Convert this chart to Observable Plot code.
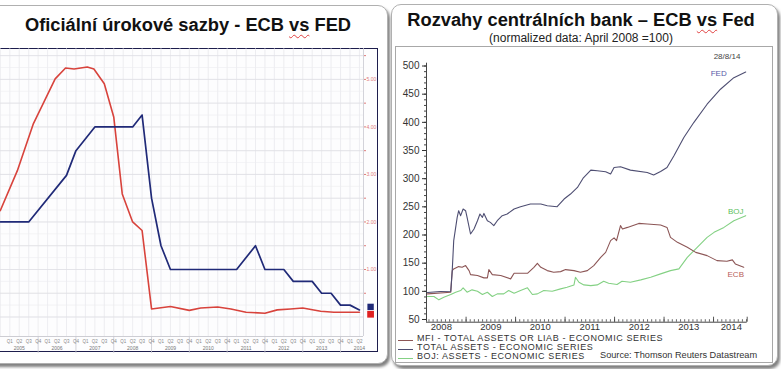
<!DOCTYPE html>
<html><head><meta charset="utf-8">
<script src="https://cdn.jsdelivr.net/npm/d3@7"></script>
<script src="https://cdn.jsdelivr.net/npm/@observablehq/plot@0.6"></script>
<style>
*{box-sizing:border-box;}
html,body{margin:0;padding:0;background:#fff;}
body{width:781px;height:369px;position:relative;overflow:hidden;font-family:"Liberation Sans",Arial,sans-serif;}
.card{position:absolute;background:#fff;border:1px solid #b0b0b0;border-radius:10px;box-shadow:2px 3px 3px rgba(0,0,0,0.5);}
#lcard{left:-14px;top:5px;width:402px;height:359px;}
#rcard{left:391px;top:4px;width:387px;height:362px;}
.abs{position:absolute;white-space:nowrap;}
.title{font-weight:bold;font-size:18.3px;color:#111;transform:translate(-50%,-50%);}
.sub{font-size:12px;color:#222;transform:translate(-50%,-50%);}
.sq{text-decoration:underline wavy #e04040;text-decoration-thickness:1px;text-underline-offset:3px;}
#lframe{left:-6px;top:48px;width:383.5px;height:304px;border:1.5px solid #1d1d4d;background:#fdfdfe;}
#rbox{left:395px;top:46px;width:378px;height:317px;border:1px solid #a8a8a8;}
#lplot{left:0;top:48px;}
#rplot{left:396px;top:47px;}
.leg{font-size:9px;letter-spacing:0.6px;color:#333;line-height:9px;transform:translateY(-50%);}
.src{font-size:9.2px;color:#333;line-height:9px;transform:translateY(-50%);}
.sw{position:absolute;width:15px;height:0;border-top:1.2px solid;}
.date{font-size:8px;color:#444;transform:translate(-50%,-50%);}
</style></head><body>
<div id="lcard" class="card"></div>
<div id="rcard" class="card"></div>
<div class="abs title" style="left:188px;top:25px;">Oficiální úrokové sazby - ECB <span class="sq">vs</span> FED</div>
<div class="abs title" style="left:581px;top:20px;">Rozvahy centrálních bank – ECB <span class="sq">vs</span> Fed</div>
<div class="abs sub" style="left:581px;top:38px;">(normalized data: April 2008 =100)</div>
<div id="lframe" class="abs"></div>
<div id="rbox" class="abs"></div>
<div id="lplot" class="abs"></div>
<div id="rplot" class="abs"></div>
<div class="abs date" style="left:727px;top:56px;">28/8/14</div>
<div id="legend"></div>
<script>
// ---------- Left chart: official rates (quarter index, 0 = first labelled quarter) ----------
const quarterLabels = ["Q1","Q2","Q3","Q4"];
const rateYears = [2005,2006,2007,2008,2009,2010,2011,2012,2013,2014];
const rateTicks = [1,2,3,4,5];
const ecbRateQ = [-1,2,6,7,9,13,14,15,16,17,24,26,27,29,30,32,33,34,35,36,37];
const ecbRate  = [2.0,2.0,2.98,3.5,4.0,4.0,4.25,2.5,1.5,1.0,1.0,1.5,1.0,1.0,0.75,0.75,0.5,0.5,0.25,0.25,0.15];
const fedRateQ = [-1,0.8,2.5,4.8,5.9,6.8,8.2,8.9,10,11,11.9,13,14,15,17,19,20.2,22,23.4,25,27,28.3,29.7,31,32.9,34.3,37];
const fedRate  = [2.24,3.08,4.07,5.01,5.24,5.22,5.26,5.22,4.91,4.21,2.59,2.0,1.82,0.17,0.22,0.14,0.19,0.21,0.17,0.10,0.08,0.15,0.17,0.19,0.12,0.10,0.10];

// ---------- Right chart: balance sheets (decimal year, April 2008 = 100) ----------
const balanceYears = [2008,2009,2010,2011,2012,2013,2014];
const balanceTicks = [50,100,150,200,250,300,350,400,450,500];
const fedT = [2008.22,2008.48,2008.69,2008.72,2008.75,2008.82,2008.85,2008.89,2008.94,2008.99,2009.02,2009.09,2009.16,2009.23,2009.28,2009.33,2009.36,2009.43,2009.49,2009.56,2009.63,2009.73,2009.83,2009.97,2010.10,2010.30,2010.51,2010.64,2010.84,2010.98,2011.11,2011.25,2011.37,2011.52,2011.65,2011.82,2011.92,2011.99,2012.12,2012.32,2012.66,2012.79,2012.93,2013.06,2013.20,2013.40,2013.60,2013.87,2014.14,2014.41,2014.65];
const fedV = [97.8,99.6,100.1,136.8,190,231.3,243.1,234.3,246.1,243.1,231.3,201.8,210.7,225.4,237.3,231.3,238.3,225.4,222.4,216.6,225.4,234.3,237.3,246.1,250.2,255,255,252,250.2,263.9,272.7,284.4,301.6,315.2,314,312.2,308.2,319.8,321.1,315.2,311,306.4,312.8,319.8,340.6,373,399.6,432.2,458.8,479.3,489.4];
const ecbT = [2008.22,2008.69,2008.72,2008.75,2008.85,2008.92,2008.99,2009.06,2009.09,2009.23,2009.36,2009.43,2009.46,2009.53,2009.70,2009.90,2009.97,2010.24,2010.37,2010.44,2010.51,2010.64,2010.77,2010.91,2011.01,2011.18,2011.31,2011.45,2011.58,2011.72,2011.82,2011.92,2011.99,2012.04,2012.12,2012.16,2012.26,2012.49,2012.66,2012.93,2013.06,2013.13,2013.27,2013.47,2013.64,2013.87,2014.07,2014.27,2014.38,2014.44,2014.61];
const ecbV = [95.5,98.4,136.8,139.8,143.9,142.7,145.7,136.8,129.7,128,123.9,123.9,138.6,129.7,128,122.1,132,132,142.7,149.8,142.7,136.8,133.8,135,138.6,136.8,133.8,136.8,145.7,160.4,169.2,190,194.8,190,216.6,210.7,213.5,220.6,219.6,217.8,213.5,195.8,187,178.1,169.2,163.4,154.5,153.3,155.8,148.7,142.7];
const bojT = [2008.22,2008.35,2008.45,2008.55,2008.69,2008.79,2008.89,2008.94,2009.02,2009.12,2009.23,2009.33,2009.43,2009.53,2009.63,2009.76,2009.86,2009.97,2010.10,2010.24,2010.34,2010.44,2010.57,2010.74,2010.91,2011.04,2011.18,2011.21,2011.28,2011.38,2011.52,2011.65,2011.78,2011.88,2012.05,2012.15,2012.32,2012.53,2012.73,2012.93,2013.13,2013.30,2013.47,2013.67,2013.87,2014.01,2014.21,2014.41,2014.65];
const bojV = [90.8,90.8,84.9,89.5,94.3,98.4,101.4,106.2,98.4,102.6,100.1,94.3,98.4,90.8,95.5,95.5,101.4,96.6,101.4,106.2,94.3,95.5,101.4,100.1,104.4,107.2,111.4,124.9,116.1,111.4,110.2,111.4,117.9,114.3,112,117.9,116.1,120.3,124.9,131,136.8,139.8,160.4,178.1,195.8,204.7,213.5,225.4,234.3];
const legendNames = ["MFI - TOTAL ASSETS OR LIAB - ECONOMIC SERIES","TOTAL ASSETS - ECONOMIC SERIES","BOJ: ASSETS - ECONOMIC SERIES"];
const seriesTags = ["ECB","FED","BOJ"];

const font = "Liberation Sans, Arial, sans-serif";
const zip = (xs, ys) => xs.map((x, i) => ({x, y: ys[i]}));

// ----- left plot -----
const qMin = -0.984, qMax = 37.43, rMin = -0.41, rMax = 5.65;
const qAll = d3.range(-1, 38);
const qLabelled = d3.range(0, 38);
const yearSep = rateYears.map((y, i) => 4 * i + 3).filter(q => q < 37);
const ecbRateData = zip(ecbRateQ, ecbRate);
const fedRateData = zip(fedRateQ, fedRate);
const left = Plot.plot({
  width: 378, height: 305,
  marginLeft: 0, marginRight: 15, marginTop: 0, marginBottom: 17,
  x: {type: "linear", domain: [qMin, qMax], axis: null},
  y: {domain: [rMin, rMax], axis: null},
  style: {background: "transparent", fontFamily: font},
  marks: [
    Plot.ruleX(qAll, {stroke: "#e2e2e8", strokeWidth: 0.6}),
    Plot.ruleY(d3.range(0, 5.6, 0.25), {stroke: "#ececf0", strokeWidth: 0.6}),
    Plot.ruleY(d3.range(0, 5.6, 0.5), {stroke: "#dcdce2", strokeWidth: 0.7}),
    Plot.ruleX([qMax], {stroke: "#c8c8d0", strokeWidth: 0.8}),
    Plot.ruleY([rMin], {stroke: "#c0c0c8", strokeWidth: 0.8}),
    Plot.ruleX(yearSep, {y1: rMin, y2: rMin - 17 / 47.5, stroke: "#c8c8d0", strokeWidth: 0.8}),
    Plot.text(qLabelled, {x: d => d, y: rMin, dy: 5, text: d => quarterLabels[d % 4], fontSize: 4.5, fill: "#888"}),
    Plot.text(rateYears, {x: (d, i) => 4 * i + 1, y: rMin, dy: 12, text: d => String(d), fontSize: 5, fill: "#777"}),
    Plot.axisY({anchor: "right", label: null, ticks: d3.range(0.5, 5.6, 0.5), tickFormat: d => rateTicks.includes(d) ? d.toFixed(2) : "", fontSize: 5, color: "#dd7b7b", tickSize: 2, tickPadding: 1}),
    Plot.line(fedRateData, {x: "x", y: "y", stroke: "#d8433c", strokeWidth: 1.6}),
    Plot.line(ecbRateData, {x: "x", y: "y", stroke: "#202a78", strokeWidth: 1.7}),
    Plot.dot([ecbRateData[ecbRateData.length - 1]], {x: qMax + 0.75, y: "y", symbol: "square", r: 3.6, dy: -3, fill: "#202a78"}),
    Plot.dot([fedRateData[fedRateData.length - 1]], {x: qMax + 0.75, y: "y", symbol: "square", r: 3.8, dy: 2, fill: "#e02020"})
  ]
});
document.getElementById("lplot").appendChild(left);

// ----- right plot -----
const tMin = 2008.2, tMax = 2014.68, bMin = 45.2, bMax = 505;
const months = d3.range(2008 * 12 + 3, 2014 * 12 + 9).map(m => m / 12);
const fedData = zip(fedT, fedV), ecbData = zip(ecbT, ecbV), bojData = zip(bojT, bojV);
const cECB = "#8c5656", cFED = "#4e4e72", cBOJ = "#84d184";
const right = Plot.plot({
  width: 379, height: 315,
  marginLeft: 30, marginRight: 28.3, marginTop: 15.7, marginBottom: 40.3,
  x: {type: "linear", domain: [tMin, tMax], axis: null},
  y: {domain: [bMin, bMax], axis: null},
  style: {background: "transparent", fontFamily: font},
  marks: [
    Plot.axisY({ticks: d3.range(50, 501, 10), label: null, tickSize: 2, tickFormat: () => "", color: "#444"}),
    Plot.axisY({ticks: balanceTicks, label: null, tickSize: 4, tickPadding: 3, fontSize: 10, color: "#333"}),
    Plot.ruleX([tMin], {stroke: "#444", strokeWidth: 1}),
    Plot.ruleY([bMin], {stroke: "#444", strokeWidth: 1}),
    Plot.ruleX(months, {y1: bMin, y2: bMin + 2.5 / 0.5644, stroke: "#444", strokeWidth: 0.8}),
    Plot.ruleX(balanceYears.slice(1).concat([tMax]), {y1: bMin, y2: bMin + 5 / 0.5644, stroke: "#444", strokeWidth: 0.9}),
    Plot.text(balanceYears, {x: d => Math.min(d + 0.5, 2014.36), y: bMin, dy: 5, text: d => String(d), fontSize: 9.5, fill: "#333"}),
    Plot.line(bojData, {x: "x", y: "y", stroke: cBOJ, strokeWidth: 1.1}),
    Plot.line(ecbData, {x: "x", y: "y", stroke: cECB, strokeWidth: 1.1}),
    Plot.line(fedData, {x: "x", y: "y", stroke: cFED, strokeWidth: 1.1}),
    Plot.text([fedData[fedData.length - 1]], {x: "x", y: "y", text: () => seriesTags[1], dx: -27, dy: 1, fontSize: 8, fill: "#5858a8"}),
    Plot.text([bojData[bojData.length - 1]], {x: "x", y: "y", text: () => seriesTags[2], dx: -10, dy: -4, fontSize: 8, fill: "#5cc05c"}),
    Plot.text([ecbData[ecbData.length - 1]], {x: "x", y: "y", text: () => seriesTags[0], dx: -8, dy: 7, fontSize: 8, fill: "#b86058"})
  ]
});
document.getElementById("rplot").appendChild(right);

// ----- legend & source -----
const legColors = [cECB, cFED, cBOJ];
const legY = [338, 347, 355.5];
const legEl = document.getElementById("legend");
legendNames.forEach((name, i) => {
  const sw = document.createElement("div");
  sw.className = "sw";
  sw.style.left = "398px"; sw.style.top = (legY[i] + 2) + "px"; sw.style.borderTopColor = legColors[i];
  legEl.appendChild(sw);
  const t = document.createElement("div");
  t.className = "abs leg";
  t.style.left = "417px"; t.style.top = legY[i] + "px";
  t.textContent = name;
  legEl.appendChild(t);
});
const src = document.createElement("div");
src.className = "abs src";
src.style.left = "600px"; src.style.top = "355px";
src.textContent = "Source: Thomson Reuters Datastream";
legEl.appendChild(src);
</script>
</body></html>
